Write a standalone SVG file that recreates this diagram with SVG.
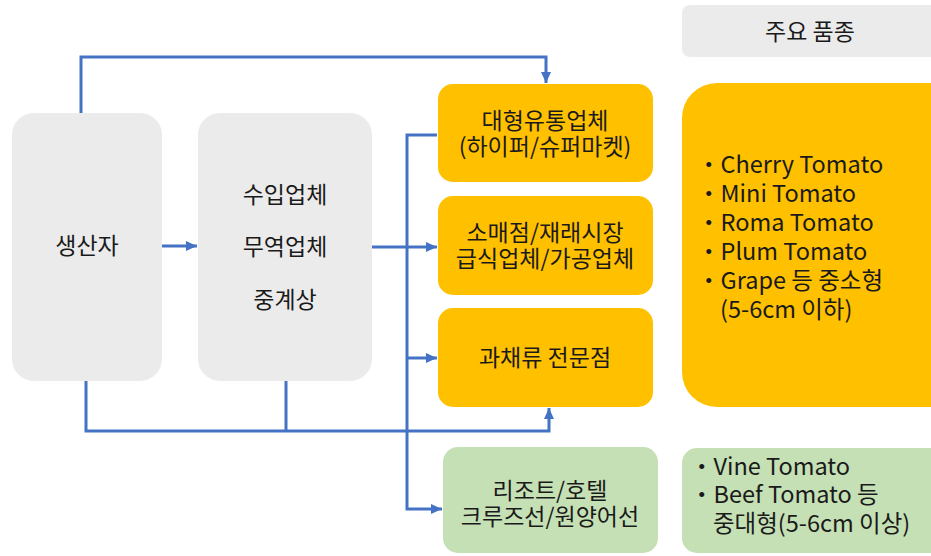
<svg xmlns="http://www.w3.org/2000/svg" width="931" height="556" viewBox="0 0 931 556">
<style>
.grey{fill:#ebebeb}
.orange{fill:#ffc000}
.green{fill:#c5e0b4}
.t{font-family:"Noto Sans CJK KR","Malgun Gothic",sans-serif;font-size:23px;fill:#1a1a1a;text-anchor:middle}
.l{font-family:"Noto Sans CJK KR","Malgun Gothic",sans-serif;font-size:23.5px;fill:#1a1a1a}
.c{fill:none;stroke:#4472c4;stroke-width:3}
</style>
<defs>
<marker id="ah" markerUnits="userSpaceOnUse" markerWidth="12" markerHeight="12" refX="11" refY="6" orient="auto">
<path d="M0,1 L11,6 L0,11 Z" fill="#4472c4"/>
</marker>
</defs>
<rect width="931" height="556" fill="#ffffff"/>
<g id="connectors">
<path class="c" d="M81,113 V57 H546 V83" marker-end="url(#ah)"/>
<path class="c" d="M162,246 H197" marker-end="url(#ah)"/>
<path class="c" d="M372,247 H407"/>
<path class="c" d="M437,135 H407 V509 H442" marker-end="url(#ah)"/>
<path class="c" d="M407,247 H437" marker-end="url(#ah)"/>
<path class="c" d="M407,358 H437" marker-end="url(#ah)"/>
<path class="c" d="M86,381 V431 H549 V408" marker-end="url(#ah)"/>
<path class="c" d="M286,380 V431"/>
</g>
<g id="producer">
<rect class="grey" x="12" y="113" width="150" height="268" rx="22"/>
<text class="t" x="87" y="254">생산자</text>
</g>
<g id="importer">
<rect class="grey" x="198" y="113" width="174" height="268" rx="22"/>
<text class="t" x="285" y="203">수입업체</text>
<text class="t" x="285" y="255">무역업체</text>
<text class="t" x="285" y="308">중계상</text>
</g>
<g id="retail-large">
<rect class="orange" x="438" y="84" width="215" height="98" rx="15"/>
<text class="t" x="545" y="129">대형유통업체<tspan x="545" dy="26">(하이퍼/슈퍼마켓)</tspan></text>
</g>
<g id="retail-small">
<rect class="orange" x="438" y="196" width="215" height="99" rx="15"/>
<text class="t" x="545" y="241">소매점/재래시장<tspan x="545" dy="26">급식업체/가공업체</tspan></text>
</g>
<g id="specialty">
<rect class="orange" x="438" y="308" width="215" height="99" rx="15"/>
<text class="t" x="545" y="366">과채류 전문점</text>
</g>
<g id="resort">
<rect class="green" x="443" y="447" width="215" height="106" rx="15"/>
<text class="t" x="550" y="499">리조트/호텔<tspan x="550" dy="26">크루즈선/원양어선</tspan></text>
</g>
<g id="header">
<rect class="grey" x="682" y="5" width="270" height="52" rx="8"/>
<text class="t" x="810" y="40">주요 품종</text>
</g>
<g id="small-varieties">
<rect class="orange" x="682" y="83" width="290" height="324" rx="35"/>
<text class="l" x="697" y="173">・Cherry Tomato<tspan x="697" dy="29">・Mini Tomato</tspan><tspan x="697" dy="29">・Roma Tomato</tspan><tspan x="697" dy="29">・Plum Tomato</tspan><tspan x="697" dy="29">・Grape 등 중소형</tspan><tspan x="720" dy="29">(5-6cm 이하)</tspan></text>
</g>
<g id="large-varieties">
<rect class="green" x="682" y="448" width="290" height="105" rx="15"/>
<text class="l" x="690" y="475">・Vine Tomato<tspan x="690" dy="28">・Beef Tomato 등</tspan><tspan x="713" dy="29">중대형(5-6cm 이상)</tspan></text>
</g>
</svg>
